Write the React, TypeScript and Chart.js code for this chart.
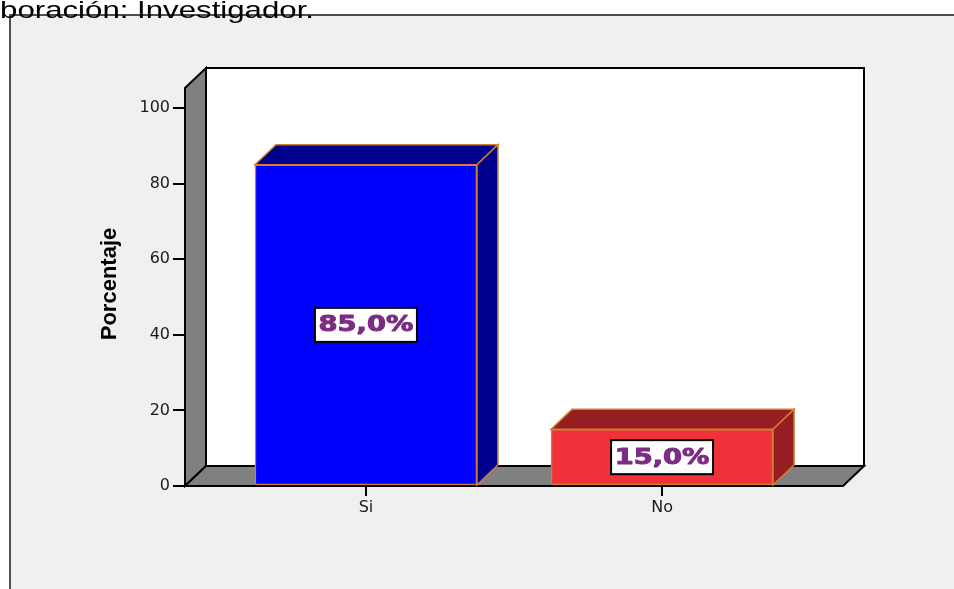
import React, { useEffect, useRef } from "react";
import { Chart, registerables } from "chart.js";

Chart.register(...registerables);

// ---- data ----
const categories: string[] = ["Si", "No"];
const percentages: number[] = [85.0, 15.0];
const valueLabels: string[] = ["85,0%", "15,0%"];
const yTickValues: number[] = [0, 20, 40, 60, 80, 100];
const yAxisMax = 105.3;
const yAxisTitle = "Porcentaje";
const captionText = "Elaboración: Investigador.";

// ---- styles ----
const frontColors = ["#0000ff", "#f0313a"];
const darkColors = ["#00008f", "#951e22"];
const edgeColor = "#d08030";
const DX = 21;
const DY = 20;

const threeDPlugin = {
  id: "threeD",
  beforeDraw(chart: any) {
    const { ctx, width, height } = chart;
    const { left, right, top, bottom } = chart.chartArea;
    ctx.save();
    // page
    ctx.fillStyle = "#ffffff";
    ctx.fillRect(0, 0, width, height);
    ctx.fillStyle = "#f0f0f0";
    ctx.fillRect(9, 14, width - 9, height - 14);
    ctx.strokeStyle = "#505050";
    ctx.lineWidth = 2;
    ctx.beginPath();
    ctx.moveTo(10, height);
    ctx.lineTo(10, 15);
    ctx.lineTo(width, 15);
    ctx.stroke();

    // caption (cut at the top-left)
    ctx.save();
    ctx.fillStyle = "#000";
    ctx.font = '24px "Liberation Sans", Arial, sans-serif';
    ctx.textAlign = "right";
    ctx.textBaseline = "alphabetic";
    ctx.translate(314, 18);
    ctx.scale(1.3, 1);
    ctx.fillText(captionText, 0, 0);
    ctx.restore();

    // walls
    ctx.lineJoin = "miter";
    ctx.strokeStyle = "#000";
    ctx.lineWidth = 2;
    // back wall
    ctx.fillStyle = "#ffffff";
    ctx.beginPath();
    ctx.rect(left + DX, top - DY, right - left, bottom - top);
    ctx.fill();
    ctx.stroke();
    // side wall
    ctx.fillStyle = "#808080";
    ctx.beginPath();
    ctx.moveTo(left, bottom);
    ctx.lineTo(left, top);
    ctx.lineTo(left + DX, top - DY);
    ctx.lineTo(left + DX, bottom - DY);
    ctx.closePath();
    ctx.fill();
    ctx.stroke();
    // floor
    ctx.beginPath();
    ctx.moveTo(left, bottom);
    ctx.lineTo(left + DX, bottom - DY);
    ctx.lineTo(right + DX, bottom - DY);
    ctx.lineTo(right, bottom);
    ctx.closePath();
    ctx.fill();
    ctx.stroke();

    // y axis title
    ctx.save();
    ctx.fillStyle = "#000";
    ctx.font = 'bold 22px "Liberation Sans", Arial, sans-serif';
    ctx.textAlign = "center";
    ctx.textBaseline = "middle";
    ctx.translate(110, (top + bottom) / 2 - 3);
    ctx.rotate(-Math.PI / 2);
    ctx.fillText(yAxisTitle, 0, 0);
    ctx.restore();
    ctx.restore();
  },
  afterDatasetsDraw(chart: any) {
    const { ctx } = chart;
    const meta = chart.getDatasetMeta(0);
    ctx.save();
    meta.data.forEach((bar: any, i: number) => {
      const { x, y, base, width } = bar.getProps(["x", "y", "base", "width"], true);
      const l = x - width / 2;
      const r = x + width / 2;
      ctx.fillStyle = darkColors[i];
      ctx.strokeStyle = edgeColor;
      ctx.lineWidth = 1.5;
      ctx.lineJoin = "miter";
      // top face
      ctx.beginPath();
      ctx.moveTo(l, y);
      ctx.lineTo(l + DX, y - DY);
      ctx.lineTo(r + DX, y - DY);
      ctx.lineTo(r, y);
      ctx.closePath();
      ctx.fill();
      ctx.stroke();
      // side face
      ctx.beginPath();
      ctx.moveTo(r, y);
      ctx.lineTo(r + DX, y - DY);
      ctx.lineTo(r + DX, base - DY);
      ctx.lineTo(r, base);
      ctx.closePath();
      ctx.fill();
      ctx.stroke();

      // value label
      const cy = (y + base) / 2;
      const bw = 102;
      const bh = 34;
      ctx.fillStyle = "#ffffff";
      ctx.fillRect(x - bw / 2, cy - bh / 2, bw, bh);
      ctx.strokeStyle = "#000";
      ctx.lineWidth = 2;
      ctx.strokeRect(x - bw / 2, cy - bh / 2, bw, bh);
      ctx.save();
      ctx.translate(x, cy + 1);
      ctx.scale(1.3, 1);
      ctx.fillStyle = "#7b2d83";
      ctx.strokeStyle = "#7b2d83";
      ctx.lineWidth = 1;
      ctx.lineJoin = "round";
      ctx.font = 'bold 21px "DejaVu Sans", Verdana, sans-serif';
      ctx.textAlign = "center";
      ctx.textBaseline = "middle";
      ctx.fillText(valueLabels[i], 0, 0);
      ctx.strokeText(valueLabels[i], 0, 0);
      ctx.restore();
    });
    ctx.restore();
  },
};

export default function App() {
  const canvasRef = useRef<HTMLCanvasElement | null>(null);

  useEffect(() => {
    if (!canvasRef.current) return;
    const chart = new Chart(canvasRef.current, {
      type: "bar",
      data: {
        datasets: [
          {
            data: percentages.map((v, i) => ({ x: i, y: v })),
            backgroundColor: frontColors,
            borderColor: edgeColor,
            borderWidth: 1.5,
            borderSkipped: false,
            barThickness: 222,
          },
        ],
      },
      options: {
        animation: false,
        responsive: false,
        devicePixelRatio: 1,
        layout: { padding: { left: 0, top: 88, right: 111, bottom: 0 } },
        plugins: {
          legend: { display: false },
          tooltip: { enabled: false },
        },
        scales: {
          x: {
            type: "linear",
            offset: false,
            min: -0.611,
            max: 1.611,
            afterBuildTicks: (axis: any) => {
              axis.ticks = categories.map((_, i) => ({ value: i }));
            },
            afterFit: (s: any) => {
              s.height = 103;
            },
            grid: {
              offset: false,
              drawOnChartArea: false,
              drawTicks: true,
              tickLength: 10,
              color: "#000",
              lineWidth: 2,
            },
            border: { display: false },
            ticks: {
              autoSkip: false,
              maxRotation: 0,
              padding: 2,
              color: "#1a1a1a",
              font: { family: '"DejaVu Sans", sans-serif', size: 16 },
              callback: (_v: any, i: number) => categories[i],
            },
          },
          y: {
            type: "linear",
            min: 0,
            max: yAxisMax,
            afterBuildTicks: (axis: any) => {
              axis.ticks = yTickValues.map((v) => ({ value: v }));
            },
            afterFit: (s: any) => {
              s.width = 185;
            },
            grid: {
              drawOnChartArea: false,
              drawTicks: true,
              tickLength: 12,
              color: "#000",
              lineWidth: 2,
            },
            border: { display: false },
            ticks: {
              padding: 3,
              color: "#1a1a1a",
              font: { family: '"DejaVu Sans", sans-serif', size: 16 },
            },
          },
        },
      },
      plugins: [threeDPlugin],
    });
    return () => chart.destroy();
  }, []);

  return (
    <div style={{ position: "absolute", left: 0, top: 0, width: 954, height: 589 }}>
      <canvas ref={canvasRef} width={954} height={589} style={{ width: 954, height: 589, display: "block" }} />
    </div>
  );
}
